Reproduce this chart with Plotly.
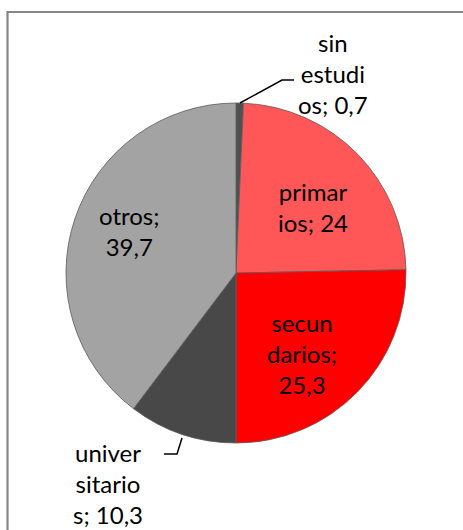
import plotly.graph_objects as go

W, H = 463, 530

categories = ["sin estudios", "primarios", "secundarios", "universitarios", "otros"]
values = [0.7, 24, 25.3, 10.3, 39.7]
# wrapped label pieces as shown in the chart (name split, value)
label_lines = [["sin", "estudi", "os; "], ["primar", "ios; "], ["secun", "darios;", ""],
               ["univer", "sitario", "s; "], ["otros;", ""]]
colors = ["#505050", "#FF5757", "#FF0000", "#484848", "#A3A3A3"]

def fmt(v):
    return ("%g" % v).replace(".", ",")

def px(x):
    return x / W

def py(y):
    return 1 - y / H

cx, cy, r = 236, 273, 170

fig = go.Figure()
fig.add_trace(go.Pie(
    labels=categories,
    values=values,
    sort=False,
    direction="clockwise",
    rotation=0,
    textinfo="none",
    hoverinfo="label+value",
    marker=dict(colors=colors, line=dict(color="#5a5a5a", width=0.8)),
    domain=dict(x=[px(cx - r), px(cx + r)], y=[py(cy + r), py(cy - r)]),
    showlegend=False,
))

# label positions (pixel centres)
label_pos = [(333, 74), (313, 207), (302, 353), (108, 483), (129, 231)]
annotations = []
for lines, v, (lx, ly) in zip(label_lines, values, label_pos):
    parts = list(lines)
    parts[-1] = parts[-1] + fmt(v)
    annotations.append(dict(
        x=px(lx), y=py(ly), xref="paper", yref="paper",
        text="<br>".join(parts), showarrow=False,
        xanchor="center", yanchor="middle", align="center",
        font=dict(family="Lato", size=24, color="#000000"),
    ))

shapes = [
    # chart frame
    dict(type="rect", xref="paper", yref="paper",
         x0=px(7.5), y0=py(H + 20), x1=px(W + 20), y1=py(12),
         line=dict(color="#868686", width=2.2), fillcolor="rgba(0,0,0,0)"),
    # leader line for "sin estudios"
    dict(type="path", xref="paper", yref="paper",
         path=f"M {px(240)},{py(103)} L {px(282)},{py(80)} L {px(294)},{py(80)}",
         line=dict(color="#000000", width=1.5)),
    # leader line for "universitarios"
    dict(type="path", xref="paper", yref="paper",
         path=f"M {px(182)},{py(438)} L {px(177)},{py(454)} L {px(164)},{py(454)}",
         line=dict(color="#000000", width=1.5)),
]

fig.update_layout(
    width=W, height=H,
    margin=dict(l=0, r=0, t=0, b=0),
    paper_bgcolor="#FFFFFF",
    plot_bgcolor="#FFFFFF",
    annotations=annotations,
    shapes=shapes,
)

fig.write_html("out.html",
               config={"displayModeBar": False},
               post_script="document.body.style.margin='0';document.body.style.overflow='hidden';")
